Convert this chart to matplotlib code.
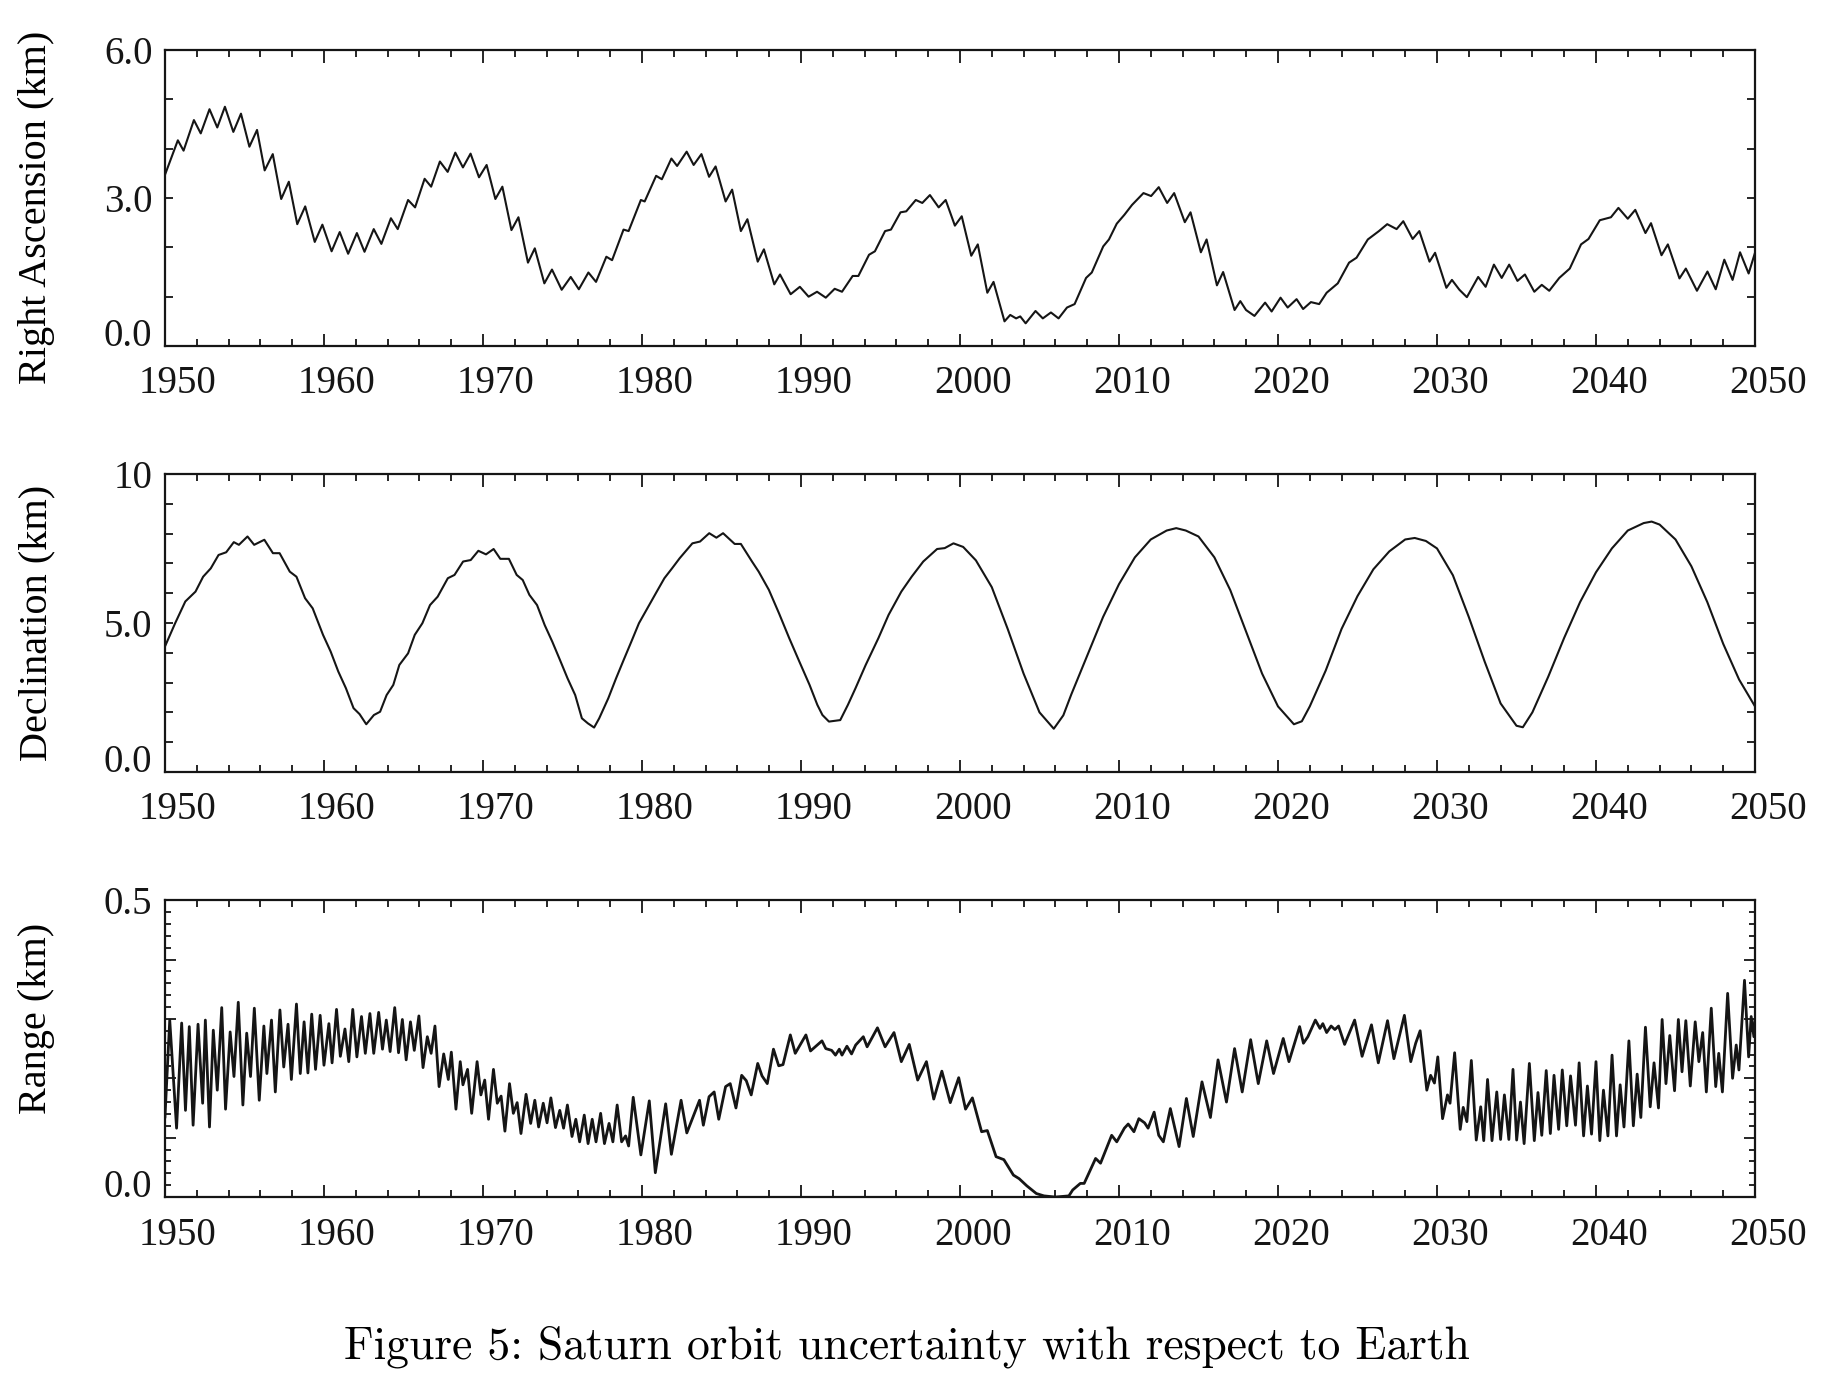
import matplotlib
matplotlib.use("Agg")
import matplotlib.pyplot as plt
import matplotlib.transforms as mtransforms
import numpy as np

# Right ascension uncertainty (km), read at the crests/troughs of the yearly wiggle
ra_points = [
    (1950.00, 3.47), (1950.81, 4.17), (1951.17, 3.96), (1951.82, 4.58), (1952.25, 4.31),
    (1952.80, 4.80), (1953.29, 4.43), (1953.77, 4.85), (1954.30, 4.34), (1954.78, 4.71),
    (1955.31, 4.04), (1955.79, 4.38), (1956.27, 3.56), (1956.78, 3.89), (1957.31, 2.98),
    (1957.79, 3.33), (1958.32, 2.47), (1958.82, 2.83), (1959.42, 2.11), (1959.90, 2.46),
    (1960.48, 1.92), (1960.99, 2.31), (1961.52, 1.87), (1962.07, 2.29), (1962.55, 1.91),
    (1963.13, 2.37), (1963.61, 2.07), (1964.21, 2.59), (1964.64, 2.37), (1965.29, 2.96),
    (1965.73, 2.81), (1966.33, 3.39), (1966.74, 3.23), (1967.29, 3.74), (1967.78, 3.53),
    (1968.26, 3.92), (1968.74, 3.62), (1969.22, 3.90), (1969.75, 3.42), (1970.23, 3.67),
    (1970.78, 2.98), (1971.22, 3.23), (1971.79, 2.35), (1972.23, 2.61), (1972.83, 1.69),
    (1973.26, 1.98), (1973.86, 1.27), (1974.34, 1.55), (1974.95, 1.14), (1975.52, 1.40),
    (1976.03, 1.15), (1976.63, 1.49), (1977.11, 1.30), (1977.76, 1.81), (1978.12, 1.74),
    (1978.84, 2.36), (1979.16, 2.33), (1979.93, 2.96), (1980.17, 2.93), (1980.89, 3.45),
    (1981.25, 3.38), (1981.85, 3.80), (1982.21, 3.65), (1982.81, 3.94), (1983.25, 3.67),
    (1983.74, 3.89), (1984.22, 3.43), (1984.63, 3.64), (1985.26, 2.93), (1985.67, 3.17),
    (1986.22, 2.33), (1986.63, 2.57), (1987.28, 1.71), (1987.67, 1.96), (1988.32, 1.25),
    (1988.68, 1.45), (1989.35, 1.05), (1989.93, 1.20), (1990.48, 1.00), (1991.01, 1.10),
    (1991.56, 0.98), (1992.12, 1.16), (1992.58, 1.10), (1993.25, 1.42), (1993.61, 1.42),
    (1994.28, 1.85), (1994.65, 1.92), (1995.29, 2.33), (1995.66, 2.36), (1996.26, 2.71),
    (1996.62, 2.73), (1997.22, 2.96), (1997.63, 2.90), (1998.11, 3.06), (1998.66, 2.81),
    (1999.10, 2.96), (1999.68, 2.44), (2000.11, 2.63), (2000.71, 1.83), (2001.12, 2.06),
    (2001.72, 1.08), (2002.11, 1.30), (2002.80, 0.50), (2003.16, 0.63), (2003.53, 0.56),
    (2003.79, 0.60), (2004.13, 0.46), (2004.75, 0.71), (2005.21, 0.56), (2005.72, 0.68),
    (2006.20, 0.56), (2006.73, 0.78), (2007.21, 0.85), (2007.93, 1.38), (2008.29, 1.49),
    (2009.01, 2.02), (2009.37, 2.16), (2009.86, 2.48), (2010.34, 2.66), (2010.82, 2.86),
    (2011.54, 3.10), (2012.02, 3.04), (2012.50, 3.22), (2013.03, 2.90), (2013.47, 3.10),
    (2014.14, 2.51), (2014.50, 2.71), (2015.15, 1.90), (2015.51, 2.16), (2016.16, 1.23),
    (2016.55, 1.50), (2017.27, 0.73), (2017.63, 0.91), (2017.99, 0.73), (2018.52, 0.61),
    (2019.19, 0.88), (2019.60, 0.70), (2020.16, 0.98), (2020.61, 0.78), (2021.17, 0.95),
    (2021.58, 0.75), (2022.07, 0.89), (2022.59, 0.85), (2023.06, 1.08), (2023.76, 1.27),
    (2024.47, 1.69), (2024.94, 1.79), (2025.65, 2.16), (2026.35, 2.33), (2026.87, 2.47),
    (2027.46, 2.37), (2027.88, 2.53), (2028.47, 2.17), (2028.89, 2.33), (2029.53, 1.71),
    (2029.88, 1.89), (2030.59, 1.18), (2030.94, 1.34), (2031.41, 1.14), (2031.88, 0.99),
    (2032.59, 1.40), (2033.06, 1.20), (2033.58, 1.65), (2034.07, 1.38), (2034.54, 1.65),
    (2035.06, 1.32), (2035.53, 1.45), (2036.12, 1.10), (2036.59, 1.24), (2037.06, 1.12),
    (2037.69, 1.38), (2038.35, 1.57), (2039.06, 2.06), (2039.53, 2.17), (2040.24, 2.55),
    (2040.94, 2.61), (2041.41, 2.80), (2042.00, 2.58), (2042.47, 2.76), (2043.11, 2.29),
    (2043.46, 2.49), (2044.12, 1.84), (2044.52, 2.06), (2045.25, 1.37), (2045.65, 1.57),
    (2046.35, 1.12), (2047.01, 1.51), (2047.53, 1.15), (2048.07, 1.75), (2048.59, 1.34),
    (2049.06, 1.90), (2049.60, 1.47), (2050.00, 1.89),
]

# Declination uncertainty (km)
dec_points = [
    (1950.00, 4.21), (1950.64, 4.99), (1951.28, 5.72), (1951.92, 6.05), (1952.40, 6.55),
    (1952.88, 6.83), (1953.37, 7.28), (1953.85, 7.37), (1954.33, 7.71), (1954.65, 7.62),
    (1955.19, 7.90), (1955.61, 7.62), (1956.25, 7.79), (1956.79, 7.34), (1957.21, 7.34),
    (1957.85, 6.72), (1958.27, 6.55), (1958.81, 5.83), (1959.29, 5.49), (1959.94, 4.60),
    (1960.42, 4.04), (1960.90, 3.37), (1961.38, 2.81), (1961.86, 2.14), (1962.24, 1.94),
    (1962.66, 1.60), (1963.14, 1.91), (1963.53, 2.02), (1963.94, 2.58), (1964.36, 2.92),
    (1964.74, 3.59), (1965.29, 3.98), (1965.71, 4.60), (1966.19, 4.99), (1966.67, 5.60),
    (1967.15, 5.88), (1967.79, 6.50), (1968.21, 6.61), (1968.75, 7.06), (1969.23, 7.11),
    (1969.71, 7.42), (1970.19, 7.30), (1970.67, 7.48), (1971.09, 7.15), (1971.63, 7.15),
    (1972.12, 6.61), (1972.50, 6.44), (1972.92, 5.94), (1973.40, 5.60), (1973.88, 4.93),
    (1974.36, 4.37), (1974.84, 3.76), (1975.32, 3.14), (1975.80, 2.58), (1976.22, 1.80),
    (1976.60, 1.63), (1976.99, 1.49), (1977.31, 1.80), (1977.88, 2.47), (1978.37, 3.14),
    (1978.85, 3.76), (1979.33, 4.37), (1979.81, 4.99), (1980.45, 5.60), (1980.93, 6.05),
    (1981.41, 6.50), (1981.89, 6.83), (1982.37, 7.17), (1983.17, 7.67), (1983.65, 7.73),
    (1984.23, 8.01), (1984.68, 7.86), (1985.10, 8.01), (1985.83, 7.65), (1986.22, 7.65),
    (1986.92, 7.06), (1987.34, 6.72), (1987.98, 6.11), (1988.62, 5.32), (1989.26, 4.49),
    (1989.90, 3.70), (1990.54, 2.92), (1991.03, 2.25), (1991.35, 1.91), (1991.76, 1.69),
    (1992.47, 1.74), (1992.95, 2.25), (1993.43, 2.81), (1994.07, 3.59), (1994.87, 4.49),
    (1995.51, 5.27), (1996.31, 6.05), (1996.96, 6.55), (1997.69, 7.06), (1998.56, 7.48),
    (1999.04, 7.51), (1999.59, 7.67), (2000.20, 7.55), (2001.00, 7.10), (2002.00, 6.20),
    (2003.00, 4.80), (2004.00, 3.30), (2005.00, 2.00), (2005.90, 1.45), (2006.50, 1.90),
    (2007.00, 2.60), (2008.00, 3.90), (2009.00, 5.20), (2010.00, 6.30), (2011.00, 7.20),
    (2012.00, 7.80), (2013.00, 8.10), (2013.60, 8.18), (2014.20, 8.10), (2015.00, 7.90),
    (2016.00, 7.20), (2017.00, 6.10), (2018.00, 4.70), (2019.00, 3.30), (2020.00, 2.20),
    (2021.00, 1.60), (2021.50, 1.70), (2022.00, 2.20), (2023.00, 3.40), (2024.00, 4.80),
    (2025.00, 5.90), (2026.00, 6.80), (2027.00, 7.40), (2028.00, 7.80), (2028.60, 7.85),
    (2029.30, 7.75), (2030.00, 7.50), (2031.00, 6.60), (2032.00, 5.20), (2033.00, 3.70),
    (2034.00, 2.30), (2035.00, 1.55), (2035.40, 1.50), (2036.00, 2.00), (2037.00, 3.20),
    (2038.00, 4.50), (2039.00, 5.70), (2040.00, 6.70), (2041.00, 7.50), (2042.00, 8.10),
    (2043.00, 8.35), (2043.50, 8.40), (2044.00, 8.30), (2045.00, 7.80), (2046.00, 6.90),
    (2047.00, 5.70), (2048.00, 4.30), (2049.00, 3.10), (2050.00, 2.20),
]

# Range uncertainty (km)
range_points = [
    (1950.00, 0.135), (1950.30, 0.298), (1950.73, 0.116), (1951.05, 0.293), (1951.29, 0.146),
    (1951.53, 0.287), (1951.77, 0.121), (1952.08, 0.291), (1952.37, 0.158), (1952.54, 0.298),
    (1952.80, 0.118), (1953.04, 0.281), (1953.29, 0.180), (1953.57, 0.319), (1953.81, 0.148),
    (1954.10, 0.278), (1954.34, 0.203), (1954.61, 0.328), (1954.90, 0.155), (1955.14, 0.276),
    (1955.38, 0.203), (1955.62, 0.318), (1955.93, 0.163), (1956.22, 0.288), (1956.41, 0.208),
    (1956.70, 0.298), (1956.94, 0.177), (1957.23, 0.315), (1957.47, 0.219), (1957.74, 0.291),
    (1957.95, 0.198), (1958.27, 0.325), (1958.51, 0.208), (1958.75, 0.295), (1958.99, 0.209),
    (1959.23, 0.308), (1959.47, 0.215), (1959.76, 0.306), (1960.00, 0.222), (1960.31, 0.292),
    (1960.51, 0.226), (1960.79, 0.316), (1961.03, 0.237), (1961.32, 0.283), (1961.56, 0.228),
    (1961.81, 0.316), (1962.07, 0.236), (1962.36, 0.304), (1962.60, 0.242), (1962.89, 0.309),
    (1963.13, 0.242), (1963.44, 0.311), (1963.68, 0.249), (1963.92, 0.298), (1964.16, 0.245),
    (1964.45, 0.319), (1964.69, 0.243), (1964.93, 0.299), (1965.17, 0.231), (1965.44, 0.295),
    (1965.68, 0.247), (1965.97, 0.305), (1966.23, 0.218), (1966.50, 0.270), (1966.74, 0.242),
    (1966.98, 0.288), (1967.24, 0.186), (1967.53, 0.241), (1967.82, 0.198), (1968.01, 0.244),
    (1968.30, 0.148), (1968.57, 0.228), (1968.74, 0.189), (1969.03, 0.215), (1969.29, 0.141),
    (1969.63, 0.228), (1969.87, 0.172), (1970.11, 0.197), (1970.35, 0.131), (1970.66, 0.215),
    (1970.90, 0.158), (1971.14, 0.170), (1971.38, 0.111), (1971.67, 0.191), (1971.91, 0.141),
    (1972.15, 0.159), (1972.39, 0.107), (1972.71, 0.173), (1973.00, 0.124), (1973.26, 0.163),
    (1973.50, 0.118), (1973.79, 0.158), (1974.03, 0.125), (1974.27, 0.167), (1974.56, 0.117),
    (1974.83, 0.146), (1975.07, 0.116), (1975.31, 0.155), (1975.60, 0.102), (1975.84, 0.131),
    (1976.08, 0.093), (1976.37, 0.138), (1976.61, 0.090), (1976.87, 0.131), (1977.11, 0.093),
    (1977.40, 0.141), (1977.64, 0.090), (1977.93, 0.124), (1978.17, 0.093), (1978.44, 0.155),
    (1978.72, 0.093), (1978.97, 0.103), (1979.16, 0.086), (1979.45, 0.168), (1979.93, 0.071),
    (1980.46, 0.162), (1980.84, 0.041), (1981.49, 0.157), (1981.85, 0.072), (1982.46, 0.163),
    (1982.82, 0.108), (1983.62, 0.163), (1983.86, 0.121), (1984.22, 0.169), (1984.54, 0.177),
    (1984.83, 0.131), (1985.26, 0.186), (1985.55, 0.191), (1985.91, 0.150), (1986.27, 0.205),
    (1986.56, 0.196), (1986.87, 0.172), (1987.28, 0.225), (1987.55, 0.204), (1987.88, 0.191),
    (1988.27, 0.249), (1988.60, 0.221), (1988.87, 0.223), (1989.33, 0.273), (1989.64, 0.242),
    (1990.31, 0.273), (1990.60, 0.246), (1991.32, 0.263), (1991.56, 0.250), (1991.93, 0.247),
    (1992.17, 0.239), (1992.41, 0.249), (1992.58, 0.239), (1992.89, 0.254), (1993.18, 0.241),
    (1993.44, 0.256), (1993.92, 0.270), (1994.16, 0.253), (1994.81, 0.285), (1995.29, 0.253),
    (1995.85, 0.277), (1996.31, 0.228), (1996.81, 0.257), (1997.34, 0.197), (1997.89, 0.228),
    (1998.35, 0.165), (1998.86, 0.212), (1999.39, 0.159), (1999.92, 0.201), (2000.35, 0.148),
    (2000.78, 0.167), (2001.36, 0.110), (2001.72, 0.112), (2002.27, 0.068), (2002.76, 0.063),
    (2003.36, 0.037), (2003.72, 0.031), (2004.20, 0.019), (2004.80, 0.006), (2005.28, 0.002),
    (2006.00, 0.000), (2006.85, 0.002), (2007.09, 0.012), (2007.57, 0.023), (2007.81, 0.023),
    (2008.53, 0.065), (2008.84, 0.057), (2009.54, 0.104), (2009.86, 0.093), (2010.34, 0.116),
    (2010.58, 0.123), (2010.94, 0.110), (2011.25, 0.132), (2011.61, 0.125), (2011.83, 0.116),
    (2012.21, 0.143), (2012.50, 0.104), (2012.79, 0.093), (2013.23, 0.149), (2013.78, 0.085),
    (2014.24, 0.166), (2014.67, 0.102), (2015.22, 0.194), (2015.75, 0.134), (2016.23, 0.231),
    (2016.76, 0.160), (2017.27, 0.250), (2017.75, 0.177), (2018.28, 0.265), (2018.76, 0.191),
    (2019.29, 0.263), (2019.72, 0.208), (2020.33, 0.267), (2020.69, 0.228), (2021.36, 0.287),
    (2021.60, 0.259), (2021.88, 0.270), (2022.35, 0.298), (2022.64, 0.284), (2022.82, 0.292),
    (2023.06, 0.277), (2023.34, 0.288), (2023.58, 0.282), (2023.81, 0.288), (2024.19, 0.257),
    (2024.82, 0.298), (2025.29, 0.237), (2025.88, 0.290), (2026.31, 0.226), (2026.89, 0.297),
    (2027.29, 0.233), (2027.95, 0.306), (2028.35, 0.228), (2028.66, 0.259), (2028.94, 0.280),
    (2029.36, 0.180), (2029.60, 0.205), (2029.84, 0.192), (2030.05, 0.236), (2030.35, 0.132),
    (2030.66, 0.172), (2030.82, 0.158), (2031.11, 0.243), (2031.46, 0.114), (2031.65, 0.151),
    (2031.88, 0.127), (2032.16, 0.230), (2032.47, 0.096), (2032.75, 0.152), (2032.94, 0.095),
    (2033.18, 0.198), (2033.46, 0.095), (2033.76, 0.177), (2034.00, 0.097), (2034.24, 0.172),
    (2034.52, 0.097), (2034.78, 0.215), (2035.01, 0.096), (2035.25, 0.160), (2035.48, 0.090),
    (2035.81, 0.225), (2036.12, 0.095), (2036.35, 0.176), (2036.59, 0.104), (2036.87, 0.213),
    (2037.13, 0.107), (2037.36, 0.205), (2037.65, 0.114), (2037.88, 0.214), (2038.16, 0.120),
    (2038.40, 0.204), (2038.71, 0.121), (2038.94, 0.226), (2039.22, 0.103), (2039.46, 0.187),
    (2039.72, 0.106), (2040.00, 0.228), (2040.24, 0.095), (2040.47, 0.180), (2040.75, 0.103),
    (2041.01, 0.239), (2041.29, 0.103), (2041.52, 0.189), (2041.76, 0.118), (2042.07, 0.263),
    (2042.35, 0.120), (2042.59, 0.207), (2042.82, 0.134), (2043.11, 0.286), (2043.41, 0.152),
    (2043.65, 0.226), (2043.93, 0.150), (2044.16, 0.299), (2044.40, 0.191), (2044.64, 0.272),
    (2044.94, 0.179), (2045.18, 0.299), (2045.41, 0.211), (2045.65, 0.297), (2045.93, 0.187),
    (2046.24, 0.295), (2046.47, 0.228), (2046.71, 0.277), (2046.94, 0.177), (2047.25, 0.318),
    (2047.53, 0.186), (2047.72, 0.242), (2047.95, 0.177), (2048.28, 0.343), (2048.59, 0.200),
    (2048.82, 0.256), (2048.99, 0.214), (2049.34, 0.365), (2049.60, 0.236), (2049.76, 0.304),
    (2049.93, 0.270), (2050.00, 0.298),
]

x_major = [1950, 1960, 1970, 1980, 1990, 2000, 2010, 2020, 2030, 2040, 2050]

panels = [
    {"points": ra_points, "ylabel": "Right Ascension (km)", "ylim": (0, 6),
     "yticks": [0, 1, 2, 3, 4, 5, 6], "ylabels": ["0.0", "", "", "3.0", "", "", "6.0"],
     "yminor": None, "lw": 1.5, "label_y": 0.47, "rect": [0.0899, 0.7489, 0.8665, 0.2148]},
    {"points": dec_points, "ylabel": "Declination (km)", "ylim": (0, 10),
     "yticks": list(range(11)), "ylabels": ["0.0", "", "", "", "", "5.0", "", "", "", "", "10"],
     "yminor": None, "lw": 1.5, "label_y": 0.5, "rect": [0.0899, 0.4398, 0.8665, 0.2163]},
    {"points": range_points, "ylabel": "Range (km)", "ylim": (0, 0.5),
     "yticks": [0.0, 0.1, 0.2, 0.3, 0.4, 0.5], "ylabels": ["0.0", "", "", "", "", "0.5"],
     "yminor": np.arange(0, 0.501, 0.02), "lw": 2.0, "label_y": 0.6, "rect": [0.0899, 0.1313, 0.8665, 0.2155]},
]

plt.rcParams["font.family"] = ["Liberation Serif", "DejaVu Serif"]
fig = plt.figure(figsize=(18.35, 13.78), dpi=100)
label_shift = mtransforms.ScaledTranslation(0.13, 0, fig.dpi_scale_trans)

for panel in panels:
    ax = fig.add_axes(panel["rect"])
    xs = [p[0] for p in panel["points"]]
    ys = [p[1] for p in panel["points"]]
    ax.plot(xs, ys, color="#151515", linewidth=panel["lw"], solid_joinstyle="round")

    ax.set_xlim(1950, 2050)
    ax.set_ylim(*panel["ylim"])
    ax.set_xticks(x_major, [str(y) for y in x_major])
    ax.set_xticks(np.arange(1950, 2051, 2), minor=True)
    yticks = ax.set_yticks(panel["yticks"], panel["ylabels"])
    yticks[0].label1.set_va("baseline")
    if panel["yminor"] is not None:
        ax.set_yticks(panel["yminor"], minor=True)

    ax.tick_params(axis="both", which="both", direction="in", top=True, right=True,
                   width=1.3, colors="#151515", labelsize=28)
    ax.tick_params(axis="x", which="major", length=9, pad=14)
    ax.tick_params(axis="x", which="minor", length=5)
    ax.tick_params(axis="y", which="major", length=6 if panel["yminor"] is None else 8, pad=9)
    ax.tick_params(axis="y", which="minor", length=4.5)
    for lab in ax.get_xticklabels():
        lab.set_transform(lab.get_transform() + label_shift)

    for spine in ax.spines.values():
        spine.set_linewidth(1.6)
        spine.set_color("#151515")

    ax.set_ylabel(panel["ylabel"], fontsize=29)
    ax.yaxis.set_label_coords(-0.069, panel["label_y"])

fig.text(0.494, 0.023, "Figure 5: Saturn orbit uncertainty with respect to Earth",
         family="cmr10", fontsize=32.8, ha="center", va="center")

fig.savefig("out.png", dpi=100)
